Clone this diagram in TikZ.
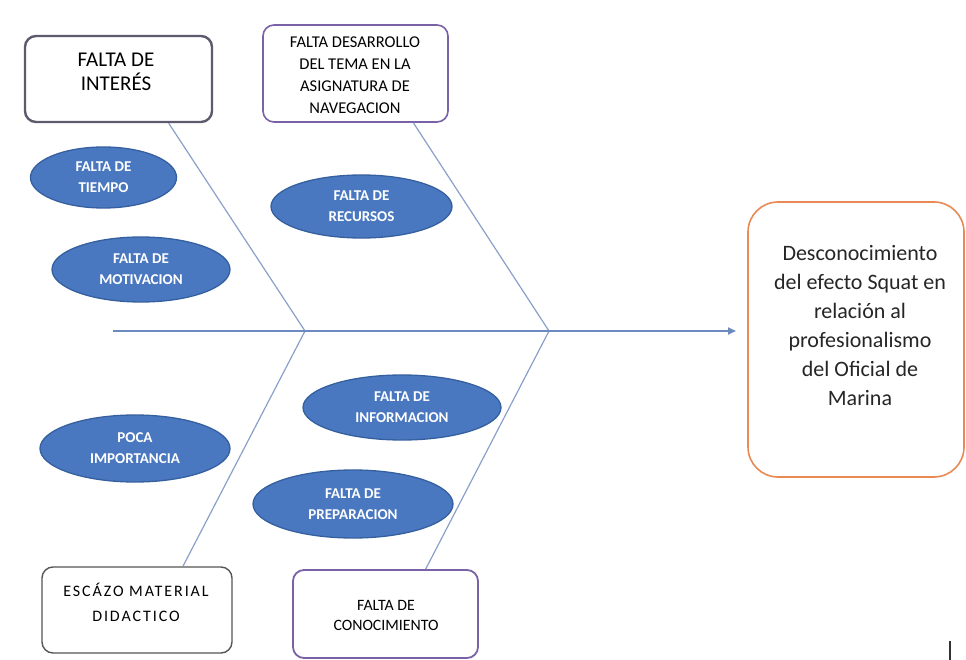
\documentclass[tikz,border=0pt]{standalone}
\usepackage{fontspec}
\setmainfont{Carlito}
\usetikzlibrary{shapes.geometric,calc,arrows.meta}
\definecolor{ellfill}{HTML}{4A78C0}
\definecolor{elldraw}{HTML}{35609F}
\definecolor{bonecol}{HTML}{8A9FC9}
\definecolor{spinecol}{HTML}{6A8AC0}
\definecolor{boxgray}{HTML}{5E5A6E}
\definecolor{boxpurple}{HTML}{7B62A6}
\definecolor{boxdark}{HTML}{555555}
\definecolor{orangeb}{HTML}{E98A55}
\tikzset{
  cause/.style={ellipse, fill=ellfill, draw=elldraw, line width=1.3pt, text=white, align=center,
    font=\fontsize{15}{21}\selectfont\bfseries, inner sep=0pt},
  rbox/.style={rounded corners=11pt, align=center, fill=white, inner sep=0pt},
  bone/.style={draw=bonecol, line width=1.2pt},
  spine/.style={draw=spinecol, line width=1.8pt, -{Triangle[length=8pt,width=7pt]}},
}
\begin{document}
\begin{tikzpicture}[x=1pt,y=-1pt]
\useasboundingbox (0,0) rectangle (966,660);
% top boxes
\node[rbox, draw=boxgray, line width=2.4pt, minimum width=187pt, minimum height=86pt] (ib) at (118.5,79) {};
\node[font=\fontsize{21}{24}\selectfont, align=center] (ibt) at (116,72) {FALTA DE\\INTERÉS};
\node[rbox, draw=boxpurple, line width=1.6pt, minimum width=185pt, minimum height=97pt] (db) at (355.5,73.5) {};
\node[font=\fontsize{16.5}{22}\selectfont, align=center] (dbt) at (355,75) {FALTA DESARROLLO\\DEL TEMA EN LA\\ASIGNATURA DE\\NAVEGACION};
% bottom boxes
\node[rbox, draw=boxdark, line width=1.4pt, minimum width=190pt, minimum height=86pt] (eb) at (137,610) {};
\node[font=\fontsize{16}{25}\selectfont\addfontfeatures{LetterSpace=12}, align=center] (ebt) at (136,602) {ESCÁZO MATERIAL\\DIDACTICO};
\node[rbox, draw=boxpurple, line width=1.8pt, minimum width=185pt, minimum height=88pt] (cb) at (385.5,614) {};
\node[font=\fontsize{15.8}{20}\selectfont, align=center] (cbt) at (386,615) {FALTA DE\\CONOCIMIENTO};
% effect box
\node[rounded corners=30pt, draw=orangeb, line width=1.6pt, fill=white, minimum width=216pt, minimum height=275pt, inner sep=0pt] (rb) at (856,339.5) {};
\node[font=\fontsize{22}{29}\selectfont, align=center, text=black!85] (rbt) at (860,326) {Desconocimiento\\del efecto Squat en\\relación al\\profesionalismo\\del Oficial de\\Marina};
% ellipses
\node[cause, minimum width=146pt, minimum height=61pt] (e1) at (103.5,177.5) {FALTA DE\\TIEMPO};
\node[cause, minimum width=178pt, minimum height=65pt] (e2) at (141,269.5) {FALTA DE\\MOTIVACION};
\node[cause, minimum width=181pt, minimum height=63pt] (e3) at (361.5,206.5) {FALTA DE\\RECURSOS};
\node[cause, minimum width=190pt, minimum height=67pt] (e4) at (135,448.5) {POCA\\IMPORTANCIA};
\node[cause, minimum width=198pt, minimum height=65pt] (e5) at (402,407.5) {FALTA DE\\INFORMACION};
\node[cause, minimum width=200pt, minimum height=68pt] (e6) at (353,504) {FALTA DE\\PREPARACION};
% spine
\coordinate (s0) at (113,331);
\coordinate (j1) at (305,331);
\coordinate (j2) at (549,331);
\coordinate (tip) at (736,331);
% bones
\draw[bone] ($(ib.south west)!0.765!(ib.south east)$) -- (j1);
\draw[bone] (j1) -- ($(eb.north west)!0.74!(eb.north east)$);
\draw[bone] ($(db.south west)!0.81!(db.south east)$) -- (j2);
\draw[bone] (j2) -- ($(cb.north west)!0.715!(cb.north east)$);
\draw[spine] (s0) -- (tip);
% mark at bottom right
\coordinate (m0) at (950,641);
\coordinate (m1) at (950,660);
\draw[line width=1.2pt, black!80] (m0) -- (m1);
\end{tikzpicture}
\end{document}
